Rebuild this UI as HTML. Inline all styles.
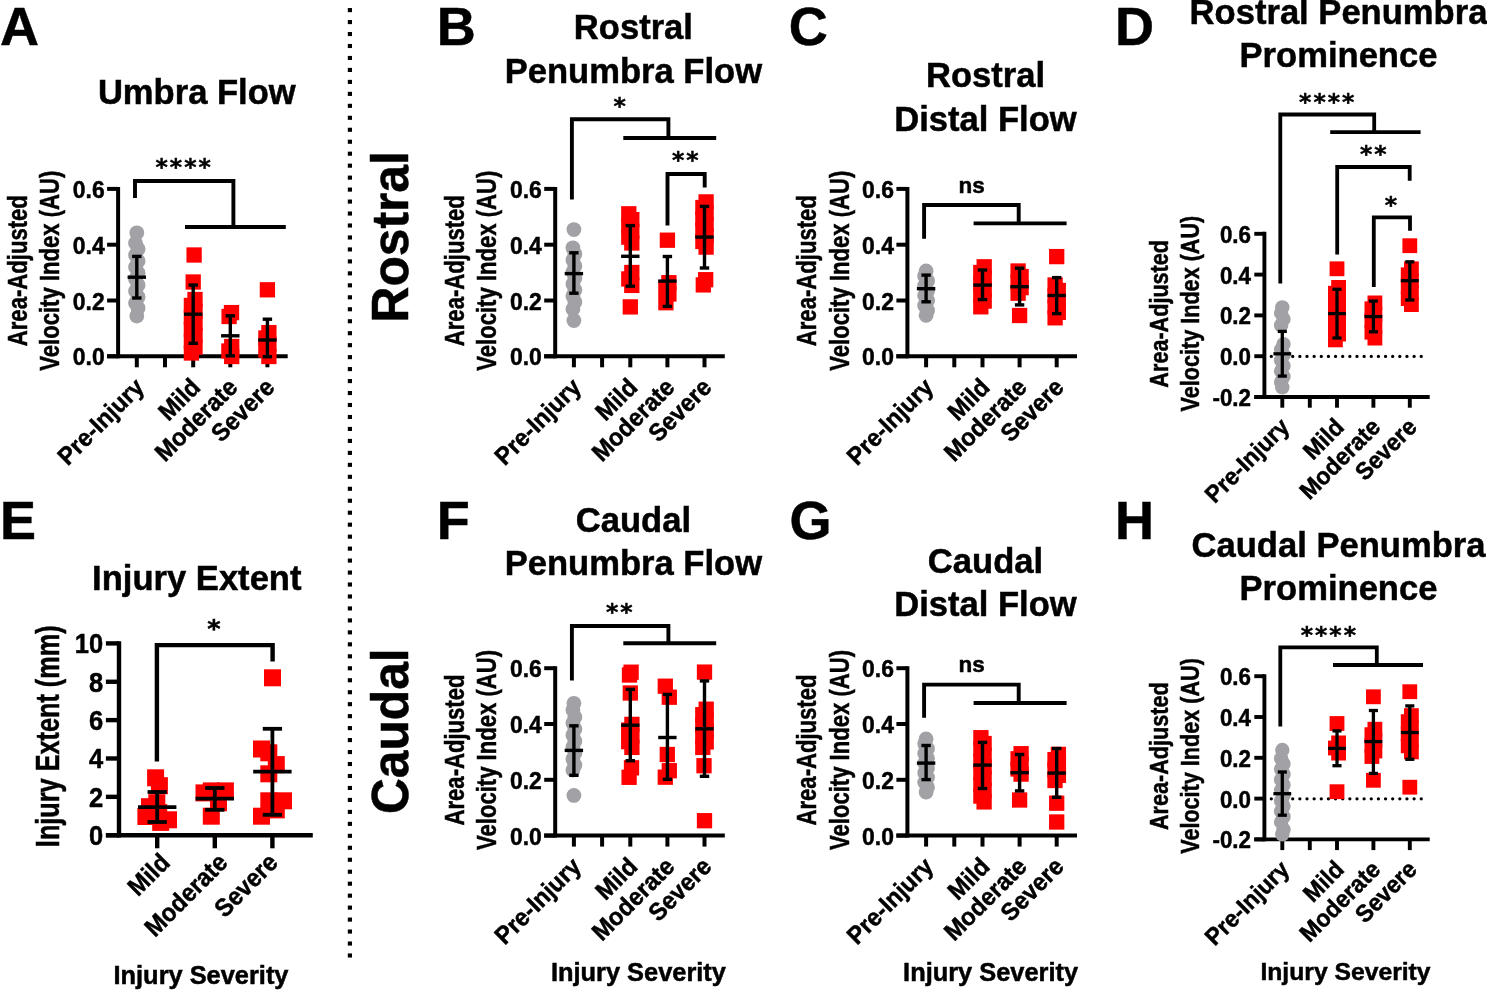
<!DOCTYPE html>
<html lang="en"><head><meta charset="utf-8"><title>Figure</title>
<style>
html,body{margin:0;padding:0;background:#fff;}
svg{display:block;}
text{fill:#000;stroke:#000;font-weight:bold;}
.t{font-family:"Liberation Sans",sans-serif;stroke-width:0.5px;}
.s{font-family:"DejaVu Sans",sans-serif;stroke-width:0.45px;}
</style>
</head><body>
<svg width="1487" height="990" viewBox="0 0 1487 990">
<rect width="1487" height="990" fill="#fff"/>
<text class="t" transform="translate(0.00,44.80)" font-size="54" text-anchor="start">A</text>
<text class="t" transform="translate(196.80,103.60) scale(0.988,1)" font-size="35" text-anchor="middle">Umbra Flow</text>
<text class="t" transform="translate(26.80,270.70) rotate(-90) scale(0.819,1.0)" font-size="27" text-anchor="middle">Area-Adjusted</text>
<text class="t" transform="translate(59.30,270.70) rotate(-90) scale(0.819,1.0)" font-size="27" text-anchor="middle">Velocity Index (AU)</text>
<line x1="118.10" y1="186.90" x2="118.10" y2="358.30" stroke="#000" stroke-width="4.0" stroke-linecap="butt"/>
<line x1="107.10" y1="356.30" x2="287.70" y2="356.30" stroke="#000" stroke-width="4.0" stroke-linecap="butt"/>
<line x1="107.10" y1="356.30" x2="118.10" y2="356.30" stroke="#000" stroke-width="4.0" stroke-linecap="butt"/>
<text class="t" transform="translate(104.70,365.30) scale(0.925,1)" font-size="24.8" text-anchor="end">0.0</text>
<line x1="107.10" y1="300.50" x2="118.10" y2="300.50" stroke="#000" stroke-width="4.0" stroke-linecap="butt"/>
<text class="t" transform="translate(104.70,309.50) scale(0.925,1)" font-size="24.8" text-anchor="end">0.2</text>
<line x1="107.10" y1="244.70" x2="118.10" y2="244.70" stroke="#000" stroke-width="4.0" stroke-linecap="butt"/>
<text class="t" transform="translate(104.70,253.70) scale(0.925,1)" font-size="24.8" text-anchor="end">0.4</text>
<line x1="107.10" y1="188.90" x2="118.10" y2="188.90" stroke="#000" stroke-width="4.0" stroke-linecap="butt"/>
<text class="t" transform="translate(104.70,197.90) scale(0.925,1)" font-size="24.8" text-anchor="end">0.6</text>
<line x1="136.80" y1="356.30" x2="136.80" y2="367.30" stroke="#000" stroke-width="4.0" stroke-linecap="butt"/>
<line x1="165.00" y1="356.30" x2="165.00" y2="367.30" stroke="#000" stroke-width="4.0" stroke-linecap="butt"/>
<line x1="193.20" y1="356.30" x2="193.20" y2="367.30" stroke="#000" stroke-width="4.0" stroke-linecap="butt"/>
<line x1="230.30" y1="356.30" x2="230.30" y2="367.30" stroke="#000" stroke-width="4.0" stroke-linecap="butt"/>
<line x1="267.40" y1="356.30" x2="267.40" y2="367.30" stroke="#000" stroke-width="4.0" stroke-linecap="butt"/>
<text class="t" transform="translate(145.40,388.70) rotate(-45) scale(0.95,1.0)" font-size="24.8" text-anchor="end">Pre-Injury</text>
<text class="t" transform="translate(201.80,388.70) rotate(-45) scale(0.95,1.0)" font-size="24.8" text-anchor="end">Mild</text>
<text class="t" transform="translate(238.90,388.70) rotate(-45) scale(0.95,1.0)" font-size="24.8" text-anchor="end">Moderate</text>
<text class="t" transform="translate(276.00,388.70) rotate(-45) scale(0.95,1.0)" font-size="24.8" text-anchor="end">Severe</text>
<circle cx="136.80" cy="232.80" r="7.4" fill="#a1a1a6"/>
<circle cx="135.50" cy="243.00" r="7.4" fill="#a1a1a6"/>
<circle cx="138.10" cy="249.00" r="7.4" fill="#a1a1a6"/>
<circle cx="135.50" cy="255.00" r="7.4" fill="#a1a1a6"/>
<circle cx="138.10" cy="261.00" r="7.4" fill="#a1a1a6"/>
<circle cx="135.50" cy="267.00" r="7.4" fill="#a1a1a6"/>
<circle cx="138.10" cy="273.00" r="7.4" fill="#a1a1a6"/>
<circle cx="135.50" cy="279.00" r="7.4" fill="#a1a1a6"/>
<circle cx="138.10" cy="285.00" r="7.4" fill="#a1a1a6"/>
<circle cx="135.50" cy="291.00" r="7.4" fill="#a1a1a6"/>
<circle cx="138.10" cy="297.00" r="7.4" fill="#a1a1a6"/>
<circle cx="135.50" cy="303.00" r="7.4" fill="#a1a1a6"/>
<circle cx="138.10" cy="308.00" r="7.4" fill="#a1a1a6"/>
<circle cx="136.80" cy="316.10" r="7.4" fill="#a1a1a6"/>
<rect x="186.45" y="247.35" width="15.3" height="15.3" fill="#ff0000"/>
<rect x="185.55" y="274.35" width="15.3" height="15.3" fill="#ff0000"/>
<rect x="187.35" y="291.85" width="15.3" height="15.3" fill="#ff0000"/>
<rect x="183.75" y="297.79" width="15.3" height="15.3" fill="#ff0000"/>
<rect x="187.35" y="303.74" width="15.3" height="15.3" fill="#ff0000"/>
<rect x="183.75" y="309.68" width="15.3" height="15.3" fill="#ff0000"/>
<rect x="187.35" y="315.63" width="15.3" height="15.3" fill="#ff0000"/>
<rect x="183.75" y="321.57" width="15.3" height="15.3" fill="#ff0000"/>
<rect x="187.35" y="327.52" width="15.3" height="15.3" fill="#ff0000"/>
<rect x="183.75" y="333.46" width="15.3" height="15.3" fill="#ff0000"/>
<rect x="187.35" y="339.41" width="15.3" height="15.3" fill="#ff0000"/>
<rect x="183.75" y="345.35" width="15.3" height="15.3" fill="#ff0000"/>
<rect x="223.85" y="304.95" width="15.3" height="15.3" fill="#ff0000"/>
<rect x="221.45" y="308.85" width="15.3" height="15.3" fill="#ff0000"/>
<rect x="224.05" y="338.85" width="15.3" height="15.3" fill="#ff0000"/>
<rect x="221.25" y="343.35" width="15.3" height="15.3" fill="#ff0000"/>
<rect x="224.05" y="348.85" width="15.3" height="15.3" fill="#ff0000"/>
<rect x="259.75" y="282.15" width="15.3" height="15.3" fill="#ff0000"/>
<rect x="261.25" y="324.95" width="15.3" height="15.3" fill="#ff0000"/>
<rect x="258.25" y="330.35" width="15.3" height="15.3" fill="#ff0000"/>
<rect x="261.25" y="336.35" width="15.3" height="15.3" fill="#ff0000"/>
<rect x="258.25" y="342.35" width="15.3" height="15.3" fill="#ff0000"/>
<rect x="261.25" y="348.85" width="15.3" height="15.3" fill="#ff0000"/>
<line x1="136.80" y1="256.40" x2="136.80" y2="298.00" stroke="#000" stroke-width="3.4" stroke-linecap="butt"/>
<line x1="127.60" y1="277.20" x2="146.00" y2="277.20" stroke="#000" stroke-width="3.4" stroke-linecap="butt"/>
<line x1="132.10" y1="256.40" x2="141.50" y2="256.40" stroke="#000" stroke-width="3.4" stroke-linecap="butt"/>
<line x1="132.10" y1="298.00" x2="141.50" y2="298.00" stroke="#000" stroke-width="3.4" stroke-linecap="butt"/>
<line x1="193.20" y1="285.00" x2="193.20" y2="343.30" stroke="#000" stroke-width="3.4" stroke-linecap="butt"/>
<line x1="184.00" y1="314.20" x2="202.40" y2="314.20" stroke="#000" stroke-width="3.4" stroke-linecap="butt"/>
<line x1="188.50" y1="285.00" x2="197.90" y2="285.00" stroke="#000" stroke-width="3.4" stroke-linecap="butt"/>
<line x1="188.50" y1="343.30" x2="197.90" y2="343.30" stroke="#000" stroke-width="3.4" stroke-linecap="butt"/>
<line x1="230.30" y1="315.80" x2="230.30" y2="355.80" stroke="#000" stroke-width="3.4" stroke-linecap="butt"/>
<line x1="221.10" y1="335.80" x2="239.50" y2="335.80" stroke="#000" stroke-width="3.4" stroke-linecap="butt"/>
<line x1="225.60" y1="315.80" x2="235.00" y2="315.80" stroke="#000" stroke-width="3.4" stroke-linecap="butt"/>
<line x1="225.60" y1="355.80" x2="235.00" y2="355.80" stroke="#000" stroke-width="3.4" stroke-linecap="butt"/>
<line x1="267.40" y1="319.20" x2="267.40" y2="356.70" stroke="#000" stroke-width="3.4" stroke-linecap="butt"/>
<line x1="258.20" y1="340.00" x2="276.60" y2="340.00" stroke="#000" stroke-width="3.4" stroke-linecap="butt"/>
<line x1="262.70" y1="319.20" x2="272.10" y2="319.20" stroke="#000" stroke-width="3.4" stroke-linecap="butt"/>
<line x1="262.70" y1="356.70" x2="272.10" y2="356.70" stroke="#000" stroke-width="3.4" stroke-linecap="butt"/>
<text class="t" transform="translate(436.70,44.80)" font-size="54" text-anchor="start">B</text>
<text class="t" transform="translate(633.40,39.20) scale(0.988,1)" font-size="35" text-anchor="middle">Rostral</text>
<text class="t" transform="translate(633.40,82.60) scale(0.988,1)" font-size="35" text-anchor="middle">Penumbra Flow</text>
<text class="t" transform="translate(463.90,270.70) rotate(-90) scale(0.819,1.0)" font-size="27" text-anchor="middle">Area-Adjusted</text>
<text class="t" transform="translate(496.40,270.70) rotate(-90) scale(0.819,1.0)" font-size="27" text-anchor="middle">Velocity Index (AU)</text>
<line x1="555.20" y1="186.90" x2="555.20" y2="358.30" stroke="#000" stroke-width="4.0" stroke-linecap="butt"/>
<line x1="544.20" y1="356.30" x2="724.80" y2="356.30" stroke="#000" stroke-width="4.0" stroke-linecap="butt"/>
<line x1="544.20" y1="356.30" x2="555.20" y2="356.30" stroke="#000" stroke-width="4.0" stroke-linecap="butt"/>
<text class="t" transform="translate(541.80,365.30) scale(0.925,1)" font-size="24.8" text-anchor="end">0.0</text>
<line x1="544.20" y1="300.50" x2="555.20" y2="300.50" stroke="#000" stroke-width="4.0" stroke-linecap="butt"/>
<text class="t" transform="translate(541.80,309.50) scale(0.925,1)" font-size="24.8" text-anchor="end">0.2</text>
<line x1="544.20" y1="244.70" x2="555.20" y2="244.70" stroke="#000" stroke-width="4.0" stroke-linecap="butt"/>
<text class="t" transform="translate(541.80,253.70) scale(0.925,1)" font-size="24.8" text-anchor="end">0.4</text>
<line x1="544.20" y1="188.90" x2="555.20" y2="188.90" stroke="#000" stroke-width="4.0" stroke-linecap="butt"/>
<text class="t" transform="translate(541.80,197.90) scale(0.925,1)" font-size="24.8" text-anchor="end">0.6</text>
<line x1="573.90" y1="356.30" x2="573.90" y2="367.30" stroke="#000" stroke-width="4.0" stroke-linecap="butt"/>
<line x1="602.10" y1="356.30" x2="602.10" y2="367.30" stroke="#000" stroke-width="4.0" stroke-linecap="butt"/>
<line x1="630.30" y1="356.30" x2="630.30" y2="367.30" stroke="#000" stroke-width="4.0" stroke-linecap="butt"/>
<line x1="667.40" y1="356.30" x2="667.40" y2="367.30" stroke="#000" stroke-width="4.0" stroke-linecap="butt"/>
<line x1="704.50" y1="356.30" x2="704.50" y2="367.30" stroke="#000" stroke-width="4.0" stroke-linecap="butt"/>
<text class="t" transform="translate(582.50,388.70) rotate(-45) scale(0.95,1.0)" font-size="24.8" text-anchor="end">Pre-Injury</text>
<text class="t" transform="translate(638.90,388.70) rotate(-45) scale(0.95,1.0)" font-size="24.8" text-anchor="end">Mild</text>
<text class="t" transform="translate(676.00,388.70) rotate(-45) scale(0.95,1.0)" font-size="24.8" text-anchor="end">Moderate</text>
<text class="t" transform="translate(713.10,388.70) rotate(-45) scale(0.95,1.0)" font-size="24.8" text-anchor="end">Severe</text>
<circle cx="573.90" cy="229.60" r="7.4" fill="#a1a1a6"/>
<circle cx="572.90" cy="247.80" r="7.4" fill="#a1a1a6"/>
<circle cx="574.90" cy="254.00" r="7.4" fill="#a1a1a6"/>
<circle cx="572.90" cy="260.00" r="7.4" fill="#a1a1a6"/>
<circle cx="574.90" cy="266.00" r="7.4" fill="#a1a1a6"/>
<circle cx="572.90" cy="272.00" r="7.4" fill="#a1a1a6"/>
<circle cx="574.90" cy="278.00" r="7.4" fill="#a1a1a6"/>
<circle cx="572.90" cy="284.00" r="7.4" fill="#a1a1a6"/>
<circle cx="574.90" cy="290.00" r="7.4" fill="#a1a1a6"/>
<circle cx="572.90" cy="296.00" r="7.4" fill="#a1a1a6"/>
<circle cx="574.90" cy="302.00" r="7.4" fill="#a1a1a6"/>
<circle cx="572.90" cy="309.00" r="7.4" fill="#a1a1a6"/>
<circle cx="573.90" cy="320.50" r="7.4" fill="#a1a1a6"/>
<rect x="621.15" y="206.15" width="15.3" height="15.3" fill="#ff0000"/>
<rect x="624.15" y="211.99" width="15.3" height="15.3" fill="#ff0000"/>
<rect x="621.15" y="217.83" width="15.3" height="15.3" fill="#ff0000"/>
<rect x="624.15" y="223.67" width="15.3" height="15.3" fill="#ff0000"/>
<rect x="621.15" y="229.51" width="15.3" height="15.3" fill="#ff0000"/>
<rect x="624.15" y="235.35" width="15.3" height="15.3" fill="#ff0000"/>
<rect x="624.15" y="264.85" width="15.3" height="15.3" fill="#ff0000"/>
<rect x="621.15" y="271.30" width="15.3" height="15.3" fill="#ff0000"/>
<rect x="624.15" y="277.75" width="15.3" height="15.3" fill="#ff0000"/>
<rect x="622.65" y="299.25" width="15.3" height="15.3" fill="#ff0000"/>
<rect x="659.75" y="232.55" width="15.3" height="15.3" fill="#ff0000"/>
<rect x="661.25" y="275.05" width="15.3" height="15.3" fill="#ff0000"/>
<rect x="658.25" y="280.35" width="15.3" height="15.3" fill="#ff0000"/>
<rect x="661.25" y="286.35" width="15.3" height="15.3" fill="#ff0000"/>
<rect x="658.25" y="295.05" width="15.3" height="15.3" fill="#ff0000"/>
<rect x="698.45" y="194.25" width="15.3" height="15.3" fill="#ff0000"/>
<rect x="695.25" y="199.90" width="15.3" height="15.3" fill="#ff0000"/>
<rect x="698.45" y="205.55" width="15.3" height="15.3" fill="#ff0000"/>
<rect x="695.25" y="211.20" width="15.3" height="15.3" fill="#ff0000"/>
<rect x="698.45" y="216.85" width="15.3" height="15.3" fill="#ff0000"/>
<rect x="695.25" y="222.50" width="15.3" height="15.3" fill="#ff0000"/>
<rect x="698.45" y="228.15" width="15.3" height="15.3" fill="#ff0000"/>
<rect x="695.25" y="233.80" width="15.3" height="15.3" fill="#ff0000"/>
<rect x="698.45" y="239.45" width="15.3" height="15.3" fill="#ff0000"/>
<rect x="698.05" y="272.05" width="15.3" height="15.3" fill="#ff0000"/>
<rect x="695.65" y="277.25" width="15.3" height="15.3" fill="#ff0000"/>
<line x1="573.90" y1="252.80" x2="573.90" y2="293.20" stroke="#000" stroke-width="3.4" stroke-linecap="butt"/>
<line x1="564.70" y1="273.60" x2="583.10" y2="273.60" stroke="#000" stroke-width="3.4" stroke-linecap="butt"/>
<line x1="569.20" y1="252.80" x2="578.60" y2="252.80" stroke="#000" stroke-width="3.4" stroke-linecap="butt"/>
<line x1="569.20" y1="293.20" x2="578.60" y2="293.20" stroke="#000" stroke-width="3.4" stroke-linecap="butt"/>
<line x1="630.30" y1="225.60" x2="630.30" y2="286.20" stroke="#000" stroke-width="3.4" stroke-linecap="butt"/>
<line x1="621.10" y1="256.30" x2="639.50" y2="256.30" stroke="#000" stroke-width="3.4" stroke-linecap="butt"/>
<line x1="625.60" y1="225.60" x2="635.00" y2="225.60" stroke="#000" stroke-width="3.4" stroke-linecap="butt"/>
<line x1="625.60" y1="286.20" x2="635.00" y2="286.20" stroke="#000" stroke-width="3.4" stroke-linecap="butt"/>
<line x1="667.40" y1="256.50" x2="667.40" y2="306.40" stroke="#000" stroke-width="3.4" stroke-linecap="butt"/>
<line x1="658.20" y1="281.10" x2="676.60" y2="281.10" stroke="#000" stroke-width="3.4" stroke-linecap="butt"/>
<line x1="662.70" y1="256.50" x2="672.10" y2="256.50" stroke="#000" stroke-width="3.4" stroke-linecap="butt"/>
<line x1="662.70" y1="306.40" x2="672.10" y2="306.40" stroke="#000" stroke-width="3.4" stroke-linecap="butt"/>
<line x1="704.50" y1="206.40" x2="704.50" y2="268.00" stroke="#000" stroke-width="3.4" stroke-linecap="butt"/>
<line x1="695.30" y1="237.10" x2="713.70" y2="237.10" stroke="#000" stroke-width="3.4" stroke-linecap="butt"/>
<line x1="699.80" y1="206.40" x2="709.20" y2="206.40" stroke="#000" stroke-width="3.4" stroke-linecap="butt"/>
<line x1="699.80" y1="268.00" x2="709.20" y2="268.00" stroke="#000" stroke-width="3.4" stroke-linecap="butt"/>
<text class="t" transform="translate(788.80,44.80)" font-size="54" text-anchor="start">C</text>
<text class="t" transform="translate(985.50,87.30) scale(0.988,1)" font-size="35" text-anchor="middle">Rostral</text>
<text class="t" transform="translate(985.50,130.70) scale(0.988,1)" font-size="35" text-anchor="middle">Distal Flow</text>
<text class="t" transform="translate(816.10,270.70) rotate(-90) scale(0.819,1.0)" font-size="27" text-anchor="middle">Area-Adjusted</text>
<text class="t" transform="translate(848.60,270.70) rotate(-90) scale(0.819,1.0)" font-size="27" text-anchor="middle">Velocity Index (AU)</text>
<line x1="907.40" y1="186.90" x2="907.40" y2="358.30" stroke="#000" stroke-width="4.0" stroke-linecap="butt"/>
<line x1="896.40" y1="356.30" x2="1077.00" y2="356.30" stroke="#000" stroke-width="4.0" stroke-linecap="butt"/>
<line x1="896.40" y1="356.30" x2="907.40" y2="356.30" stroke="#000" stroke-width="4.0" stroke-linecap="butt"/>
<text class="t" transform="translate(894.00,365.30) scale(0.925,1)" font-size="24.8" text-anchor="end">0.0</text>
<line x1="896.40" y1="300.50" x2="907.40" y2="300.50" stroke="#000" stroke-width="4.0" stroke-linecap="butt"/>
<text class="t" transform="translate(894.00,309.50) scale(0.925,1)" font-size="24.8" text-anchor="end">0.2</text>
<line x1="896.40" y1="244.70" x2="907.40" y2="244.70" stroke="#000" stroke-width="4.0" stroke-linecap="butt"/>
<text class="t" transform="translate(894.00,253.70) scale(0.925,1)" font-size="24.8" text-anchor="end">0.4</text>
<line x1="896.40" y1="188.90" x2="907.40" y2="188.90" stroke="#000" stroke-width="4.0" stroke-linecap="butt"/>
<text class="t" transform="translate(894.00,197.90) scale(0.925,1)" font-size="24.8" text-anchor="end">0.6</text>
<line x1="926.10" y1="356.30" x2="926.10" y2="367.30" stroke="#000" stroke-width="4.0" stroke-linecap="butt"/>
<line x1="954.30" y1="356.30" x2="954.30" y2="367.30" stroke="#000" stroke-width="4.0" stroke-linecap="butt"/>
<line x1="982.50" y1="356.30" x2="982.50" y2="367.30" stroke="#000" stroke-width="4.0" stroke-linecap="butt"/>
<line x1="1019.60" y1="356.30" x2="1019.60" y2="367.30" stroke="#000" stroke-width="4.0" stroke-linecap="butt"/>
<line x1="1056.70" y1="356.30" x2="1056.70" y2="367.30" stroke="#000" stroke-width="4.0" stroke-linecap="butt"/>
<text class="t" transform="translate(934.70,388.70) rotate(-45) scale(0.95,1.0)" font-size="24.8" text-anchor="end">Pre-Injury</text>
<text class="t" transform="translate(991.10,388.70) rotate(-45) scale(0.95,1.0)" font-size="24.8" text-anchor="end">Mild</text>
<text class="t" transform="translate(1028.20,388.70) rotate(-45) scale(0.95,1.0)" font-size="24.8" text-anchor="end">Moderate</text>
<text class="t" transform="translate(1065.30,388.70) rotate(-45) scale(0.95,1.0)" font-size="24.8" text-anchor="end">Severe</text>
<circle cx="926.10" cy="271.00" r="7.4" fill="#a1a1a6"/>
<circle cx="924.60" cy="275.92" r="7.4" fill="#a1a1a6"/>
<circle cx="927.60" cy="280.84" r="7.4" fill="#a1a1a6"/>
<circle cx="924.60" cy="285.77" r="7.4" fill="#a1a1a6"/>
<circle cx="927.60" cy="290.69" r="7.4" fill="#a1a1a6"/>
<circle cx="924.60" cy="295.61" r="7.4" fill="#a1a1a6"/>
<circle cx="927.60" cy="300.53" r="7.4" fill="#a1a1a6"/>
<circle cx="924.60" cy="305.46" r="7.4" fill="#a1a1a6"/>
<circle cx="927.60" cy="310.38" r="7.4" fill="#a1a1a6"/>
<circle cx="926.10" cy="315.30" r="7.4" fill="#a1a1a6"/>
<rect x="976.55" y="259.15" width="15.3" height="15.3" fill="#ff0000"/>
<rect x="973.15" y="264.86" width="15.3" height="15.3" fill="#ff0000"/>
<rect x="976.55" y="270.58" width="15.3" height="15.3" fill="#ff0000"/>
<rect x="973.15" y="276.29" width="15.3" height="15.3" fill="#ff0000"/>
<rect x="976.55" y="282.01" width="15.3" height="15.3" fill="#ff0000"/>
<rect x="973.15" y="287.72" width="15.3" height="15.3" fill="#ff0000"/>
<rect x="976.55" y="293.44" width="15.3" height="15.3" fill="#ff0000"/>
<rect x="973.15" y="299.15" width="15.3" height="15.3" fill="#ff0000"/>
<rect x="1010.45" y="263.35" width="15.3" height="15.3" fill="#ff0000"/>
<rect x="1013.45" y="268.90" width="15.3" height="15.3" fill="#ff0000"/>
<rect x="1010.45" y="274.45" width="15.3" height="15.3" fill="#ff0000"/>
<rect x="1013.45" y="280.00" width="15.3" height="15.3" fill="#ff0000"/>
<rect x="1010.45" y="285.55" width="15.3" height="15.3" fill="#ff0000"/>
<rect x="1011.95" y="307.85" width="15.3" height="15.3" fill="#ff0000"/>
<rect x="1049.05" y="248.95" width="15.3" height="15.3" fill="#ff0000"/>
<rect x="1047.45" y="277.35" width="15.3" height="15.3" fill="#ff0000"/>
<rect x="1050.65" y="282.82" width="15.3" height="15.3" fill="#ff0000"/>
<rect x="1047.45" y="288.28" width="15.3" height="15.3" fill="#ff0000"/>
<rect x="1050.65" y="293.75" width="15.3" height="15.3" fill="#ff0000"/>
<rect x="1047.45" y="299.22" width="15.3" height="15.3" fill="#ff0000"/>
<rect x="1050.65" y="304.68" width="15.3" height="15.3" fill="#ff0000"/>
<rect x="1047.45" y="310.15" width="15.3" height="15.3" fill="#ff0000"/>
<line x1="926.10" y1="275.10" x2="926.10" y2="301.80" stroke="#000" stroke-width="3.4" stroke-linecap="butt"/>
<line x1="916.90" y1="288.70" x2="935.30" y2="288.70" stroke="#000" stroke-width="3.4" stroke-linecap="butt"/>
<line x1="921.40" y1="275.10" x2="930.80" y2="275.10" stroke="#000" stroke-width="3.4" stroke-linecap="butt"/>
<line x1="921.40" y1="301.80" x2="930.80" y2="301.80" stroke="#000" stroke-width="3.4" stroke-linecap="butt"/>
<line x1="982.50" y1="270.00" x2="982.50" y2="299.60" stroke="#000" stroke-width="3.4" stroke-linecap="butt"/>
<line x1="973.30" y1="285.10" x2="991.70" y2="285.10" stroke="#000" stroke-width="3.4" stroke-linecap="butt"/>
<line x1="977.80" y1="270.00" x2="987.20" y2="270.00" stroke="#000" stroke-width="3.4" stroke-linecap="butt"/>
<line x1="977.80" y1="299.60" x2="987.20" y2="299.60" stroke="#000" stroke-width="3.4" stroke-linecap="butt"/>
<line x1="1019.60" y1="268.20" x2="1019.60" y2="304.90" stroke="#000" stroke-width="3.4" stroke-linecap="butt"/>
<line x1="1010.40" y1="286.70" x2="1028.80" y2="286.70" stroke="#000" stroke-width="3.4" stroke-linecap="butt"/>
<line x1="1014.90" y1="268.20" x2="1024.30" y2="268.20" stroke="#000" stroke-width="3.4" stroke-linecap="butt"/>
<line x1="1014.90" y1="304.90" x2="1024.30" y2="304.90" stroke="#000" stroke-width="3.4" stroke-linecap="butt"/>
<line x1="1056.70" y1="277.60" x2="1056.70" y2="313.60" stroke="#000" stroke-width="3.4" stroke-linecap="butt"/>
<line x1="1047.50" y1="295.50" x2="1065.90" y2="295.50" stroke="#000" stroke-width="3.4" stroke-linecap="butt"/>
<line x1="1052.00" y1="277.60" x2="1061.40" y2="277.60" stroke="#000" stroke-width="3.4" stroke-linecap="butt"/>
<line x1="1052.00" y1="313.60" x2="1061.40" y2="313.60" stroke="#000" stroke-width="3.4" stroke-linecap="butt"/>
<text class="t" transform="translate(436.80,539.20)" font-size="54" text-anchor="start">F</text>
<text class="t" transform="translate(633.40,532.00) scale(0.988,1)" font-size="35" text-anchor="middle">Caudal</text>
<text class="t" transform="translate(633.40,575.40) scale(0.988,1)" font-size="35" text-anchor="middle">Penumbra Flow</text>
<text class="t" transform="translate(463.90,750.00) rotate(-90) scale(0.819,1.0)" font-size="27" text-anchor="middle">Area-Adjusted</text>
<text class="t" transform="translate(496.40,750.00) rotate(-90) scale(0.819,1.0)" font-size="27" text-anchor="middle">Velocity Index (AU)</text>
<line x1="555.20" y1="666.20" x2="555.20" y2="837.60" stroke="#000" stroke-width="4.0" stroke-linecap="butt"/>
<line x1="544.20" y1="835.60" x2="724.80" y2="835.60" stroke="#000" stroke-width="4.0" stroke-linecap="butt"/>
<line x1="544.20" y1="835.60" x2="555.20" y2="835.60" stroke="#000" stroke-width="4.0" stroke-linecap="butt"/>
<text class="t" transform="translate(541.80,844.60) scale(0.925,1)" font-size="24.8" text-anchor="end">0.0</text>
<line x1="544.20" y1="779.80" x2="555.20" y2="779.80" stroke="#000" stroke-width="4.0" stroke-linecap="butt"/>
<text class="t" transform="translate(541.80,788.80) scale(0.925,1)" font-size="24.8" text-anchor="end">0.2</text>
<line x1="544.20" y1="724.00" x2="555.20" y2="724.00" stroke="#000" stroke-width="4.0" stroke-linecap="butt"/>
<text class="t" transform="translate(541.80,733.00) scale(0.925,1)" font-size="24.8" text-anchor="end">0.4</text>
<line x1="544.20" y1="668.20" x2="555.20" y2="668.20" stroke="#000" stroke-width="4.0" stroke-linecap="butt"/>
<text class="t" transform="translate(541.80,677.20) scale(0.925,1)" font-size="24.8" text-anchor="end">0.6</text>
<line x1="573.90" y1="835.60" x2="573.90" y2="846.60" stroke="#000" stroke-width="4.0" stroke-linecap="butt"/>
<line x1="602.10" y1="835.60" x2="602.10" y2="846.60" stroke="#000" stroke-width="4.0" stroke-linecap="butt"/>
<line x1="630.30" y1="835.60" x2="630.30" y2="846.60" stroke="#000" stroke-width="4.0" stroke-linecap="butt"/>
<line x1="667.40" y1="835.60" x2="667.40" y2="846.60" stroke="#000" stroke-width="4.0" stroke-linecap="butt"/>
<line x1="704.50" y1="835.60" x2="704.50" y2="846.60" stroke="#000" stroke-width="4.0" stroke-linecap="butt"/>
<text class="t" transform="translate(582.50,868.00) rotate(-45) scale(0.95,1.0)" font-size="24.8" text-anchor="end">Pre-Injury</text>
<text class="t" transform="translate(638.90,868.00) rotate(-45) scale(0.95,1.0)" font-size="24.8" text-anchor="end">Mild</text>
<text class="t" transform="translate(676.00,868.00) rotate(-45) scale(0.95,1.0)" font-size="24.8" text-anchor="end">Moderate</text>
<text class="t" transform="translate(713.10,868.00) rotate(-45) scale(0.95,1.0)" font-size="24.8" text-anchor="end">Severe</text>
<text class="t" transform="translate(638.40,981.20)" font-size="25.4" text-anchor="middle">Injury Severity</text>
<circle cx="573.90" cy="703.30" r="7.4" fill="#a1a1a6"/>
<circle cx="572.90" cy="710.00" r="7.4" fill="#a1a1a6"/>
<circle cx="574.90" cy="717.00" r="7.4" fill="#a1a1a6"/>
<circle cx="572.90" cy="723.00" r="7.4" fill="#a1a1a6"/>
<circle cx="574.90" cy="729.00" r="7.4" fill="#a1a1a6"/>
<circle cx="572.90" cy="735.00" r="7.4" fill="#a1a1a6"/>
<circle cx="574.90" cy="741.00" r="7.4" fill="#a1a1a6"/>
<circle cx="572.90" cy="747.00" r="7.4" fill="#a1a1a6"/>
<circle cx="574.90" cy="753.00" r="7.4" fill="#a1a1a6"/>
<circle cx="572.90" cy="759.00" r="7.4" fill="#a1a1a6"/>
<circle cx="574.90" cy="765.00" r="7.4" fill="#a1a1a6"/>
<circle cx="572.90" cy="770.00" r="7.4" fill="#a1a1a6"/>
<circle cx="573.90" cy="795.40" r="7.4" fill="#a1a1a6"/>
<rect x="623.45" y="664.55" width="15.3" height="15.3" fill="#ff0000"/>
<rect x="621.85" y="667.35" width="15.3" height="15.3" fill="#ff0000"/>
<rect x="622.65" y="685.35" width="15.3" height="15.3" fill="#ff0000"/>
<rect x="624.25" y="716.75" width="15.3" height="15.3" fill="#ff0000"/>
<rect x="621.05" y="722.50" width="15.3" height="15.3" fill="#ff0000"/>
<rect x="624.25" y="728.25" width="15.3" height="15.3" fill="#ff0000"/>
<rect x="621.05" y="734.00" width="15.3" height="15.3" fill="#ff0000"/>
<rect x="624.25" y="739.75" width="15.3" height="15.3" fill="#ff0000"/>
<rect x="623.85" y="760.15" width="15.3" height="15.3" fill="#ff0000"/>
<rect x="621.45" y="769.65" width="15.3" height="15.3" fill="#ff0000"/>
<rect x="657.65" y="678.55" width="15.3" height="15.3" fill="#ff0000"/>
<rect x="661.65" y="689.55" width="15.3" height="15.3" fill="#ff0000"/>
<rect x="659.65" y="746.85" width="15.3" height="15.3" fill="#ff0000"/>
<rect x="661.65" y="763.05" width="15.3" height="15.3" fill="#ff0000"/>
<rect x="657.65" y="769.55" width="15.3" height="15.3" fill="#ff0000"/>
<rect x="696.85" y="664.45" width="15.3" height="15.3" fill="#ff0000"/>
<rect x="698.55" y="701.55" width="15.3" height="15.3" fill="#ff0000"/>
<rect x="695.15" y="707.01" width="15.3" height="15.3" fill="#ff0000"/>
<rect x="698.55" y="712.46" width="15.3" height="15.3" fill="#ff0000"/>
<rect x="695.15" y="717.92" width="15.3" height="15.3" fill="#ff0000"/>
<rect x="698.55" y="723.38" width="15.3" height="15.3" fill="#ff0000"/>
<rect x="695.15" y="728.84" width="15.3" height="15.3" fill="#ff0000"/>
<rect x="698.55" y="734.29" width="15.3" height="15.3" fill="#ff0000"/>
<rect x="695.15" y="739.75" width="15.3" height="15.3" fill="#ff0000"/>
<rect x="696.35" y="758.05" width="15.3" height="15.3" fill="#ff0000"/>
<rect x="696.85" y="813.05" width="15.3" height="15.3" fill="#ff0000"/>
<line x1="573.90" y1="725.80" x2="573.90" y2="775.30" stroke="#000" stroke-width="3.4" stroke-linecap="butt"/>
<line x1="564.70" y1="750.40" x2="583.10" y2="750.40" stroke="#000" stroke-width="3.4" stroke-linecap="butt"/>
<line x1="569.20" y1="725.80" x2="578.60" y2="725.80" stroke="#000" stroke-width="3.4" stroke-linecap="butt"/>
<line x1="569.20" y1="775.30" x2="578.60" y2="775.30" stroke="#000" stroke-width="3.4" stroke-linecap="butt"/>
<line x1="630.30" y1="689.40" x2="630.30" y2="760.70" stroke="#000" stroke-width="3.4" stroke-linecap="butt"/>
<line x1="621.10" y1="725.20" x2="639.50" y2="725.20" stroke="#000" stroke-width="3.4" stroke-linecap="butt"/>
<line x1="625.60" y1="689.40" x2="635.00" y2="689.40" stroke="#000" stroke-width="3.4" stroke-linecap="butt"/>
<line x1="625.60" y1="760.70" x2="635.00" y2="760.70" stroke="#000" stroke-width="3.4" stroke-linecap="butt"/>
<line x1="667.40" y1="694.40" x2="667.40" y2="779.30" stroke="#000" stroke-width="3.4" stroke-linecap="butt"/>
<line x1="658.20" y1="737.50" x2="676.60" y2="737.50" stroke="#000" stroke-width="3.4" stroke-linecap="butt"/>
<line x1="662.70" y1="694.40" x2="672.10" y2="694.40" stroke="#000" stroke-width="3.4" stroke-linecap="butt"/>
<line x1="662.70" y1="779.30" x2="672.10" y2="779.30" stroke="#000" stroke-width="3.4" stroke-linecap="butt"/>
<line x1="704.50" y1="680.90" x2="704.50" y2="776.30" stroke="#000" stroke-width="3.4" stroke-linecap="butt"/>
<line x1="695.30" y1="728.80" x2="713.70" y2="728.80" stroke="#000" stroke-width="3.4" stroke-linecap="butt"/>
<line x1="699.80" y1="680.90" x2="709.20" y2="680.90" stroke="#000" stroke-width="3.4" stroke-linecap="butt"/>
<line x1="699.80" y1="776.30" x2="709.20" y2="776.30" stroke="#000" stroke-width="3.4" stroke-linecap="butt"/>
<text class="t" transform="translate(789.50,539.20)" font-size="54" text-anchor="start">G</text>
<text class="t" transform="translate(985.50,572.80) scale(0.988,1)" font-size="35" text-anchor="middle">Caudal</text>
<text class="t" transform="translate(985.50,616.20) scale(0.988,1)" font-size="35" text-anchor="middle">Distal Flow</text>
<text class="t" transform="translate(816.10,750.00) rotate(-90) scale(0.819,1.0)" font-size="27" text-anchor="middle">Area-Adjusted</text>
<text class="t" transform="translate(848.60,750.00) rotate(-90) scale(0.819,1.0)" font-size="27" text-anchor="middle">Velocity Index (AU)</text>
<line x1="907.40" y1="666.20" x2="907.40" y2="837.60" stroke="#000" stroke-width="4.0" stroke-linecap="butt"/>
<line x1="896.40" y1="835.60" x2="1077.00" y2="835.60" stroke="#000" stroke-width="4.0" stroke-linecap="butt"/>
<line x1="896.40" y1="835.60" x2="907.40" y2="835.60" stroke="#000" stroke-width="4.0" stroke-linecap="butt"/>
<text class="t" transform="translate(894.00,844.60) scale(0.925,1)" font-size="24.8" text-anchor="end">0.0</text>
<line x1="896.40" y1="779.80" x2="907.40" y2="779.80" stroke="#000" stroke-width="4.0" stroke-linecap="butt"/>
<text class="t" transform="translate(894.00,788.80) scale(0.925,1)" font-size="24.8" text-anchor="end">0.2</text>
<line x1="896.40" y1="724.00" x2="907.40" y2="724.00" stroke="#000" stroke-width="4.0" stroke-linecap="butt"/>
<text class="t" transform="translate(894.00,733.00) scale(0.925,1)" font-size="24.8" text-anchor="end">0.4</text>
<line x1="896.40" y1="668.20" x2="907.40" y2="668.20" stroke="#000" stroke-width="4.0" stroke-linecap="butt"/>
<text class="t" transform="translate(894.00,677.20) scale(0.925,1)" font-size="24.8" text-anchor="end">0.6</text>
<line x1="926.10" y1="835.60" x2="926.10" y2="846.60" stroke="#000" stroke-width="4.0" stroke-linecap="butt"/>
<line x1="954.30" y1="835.60" x2="954.30" y2="846.60" stroke="#000" stroke-width="4.0" stroke-linecap="butt"/>
<line x1="982.50" y1="835.60" x2="982.50" y2="846.60" stroke="#000" stroke-width="4.0" stroke-linecap="butt"/>
<line x1="1019.60" y1="835.60" x2="1019.60" y2="846.60" stroke="#000" stroke-width="4.0" stroke-linecap="butt"/>
<line x1="1056.70" y1="835.60" x2="1056.70" y2="846.60" stroke="#000" stroke-width="4.0" stroke-linecap="butt"/>
<text class="t" transform="translate(934.70,868.00) rotate(-45) scale(0.95,1.0)" font-size="24.8" text-anchor="end">Pre-Injury</text>
<text class="t" transform="translate(991.10,868.00) rotate(-45) scale(0.95,1.0)" font-size="24.8" text-anchor="end">Mild</text>
<text class="t" transform="translate(1028.20,868.00) rotate(-45) scale(0.95,1.0)" font-size="24.8" text-anchor="end">Moderate</text>
<text class="t" transform="translate(1065.30,868.00) rotate(-45) scale(0.95,1.0)" font-size="24.8" text-anchor="end">Severe</text>
<text class="t" transform="translate(990.60,981.20)" font-size="25.4" text-anchor="middle">Injury Severity</text>
<circle cx="926.10" cy="739.00" r="7.4" fill="#a1a1a6"/>
<circle cx="924.70" cy="743.82" r="7.4" fill="#a1a1a6"/>
<circle cx="927.50" cy="748.64" r="7.4" fill="#a1a1a6"/>
<circle cx="924.70" cy="753.45" r="7.4" fill="#a1a1a6"/>
<circle cx="927.50" cy="758.27" r="7.4" fill="#a1a1a6"/>
<circle cx="924.70" cy="763.09" r="7.4" fill="#a1a1a6"/>
<circle cx="927.50" cy="767.91" r="7.4" fill="#a1a1a6"/>
<circle cx="924.70" cy="772.73" r="7.4" fill="#a1a1a6"/>
<circle cx="927.50" cy="777.55" r="7.4" fill="#a1a1a6"/>
<circle cx="924.70" cy="782.36" r="7.4" fill="#a1a1a6"/>
<circle cx="927.50" cy="787.18" r="7.4" fill="#a1a1a6"/>
<circle cx="926.10" cy="792.00" r="7.4" fill="#a1a1a6"/>
<rect x="973.25" y="730.05" width="15.3" height="15.3" fill="#ff0000"/>
<rect x="976.45" y="735.89" width="15.3" height="15.3" fill="#ff0000"/>
<rect x="973.25" y="741.72" width="15.3" height="15.3" fill="#ff0000"/>
<rect x="976.45" y="747.56" width="15.3" height="15.3" fill="#ff0000"/>
<rect x="973.25" y="753.40" width="15.3" height="15.3" fill="#ff0000"/>
<rect x="976.45" y="759.23" width="15.3" height="15.3" fill="#ff0000"/>
<rect x="973.25" y="765.07" width="15.3" height="15.3" fill="#ff0000"/>
<rect x="976.45" y="770.90" width="15.3" height="15.3" fill="#ff0000"/>
<rect x="973.25" y="776.74" width="15.3" height="15.3" fill="#ff0000"/>
<rect x="976.45" y="782.58" width="15.3" height="15.3" fill="#ff0000"/>
<rect x="973.25" y="788.41" width="15.3" height="15.3" fill="#ff0000"/>
<rect x="976.45" y="794.25" width="15.3" height="15.3" fill="#ff0000"/>
<rect x="1013.45" y="746.05" width="15.3" height="15.3" fill="#ff0000"/>
<rect x="1010.45" y="751.15" width="15.3" height="15.3" fill="#ff0000"/>
<rect x="1013.45" y="756.25" width="15.3" height="15.3" fill="#ff0000"/>
<rect x="1010.45" y="761.35" width="15.3" height="15.3" fill="#ff0000"/>
<rect x="1013.45" y="766.45" width="15.3" height="15.3" fill="#ff0000"/>
<rect x="1011.95" y="792.35" width="15.3" height="15.3" fill="#ff0000"/>
<rect x="1050.75" y="746.75" width="15.3" height="15.3" fill="#ff0000"/>
<rect x="1047.35" y="751.97" width="15.3" height="15.3" fill="#ff0000"/>
<rect x="1050.75" y="757.19" width="15.3" height="15.3" fill="#ff0000"/>
<rect x="1047.35" y="762.41" width="15.3" height="15.3" fill="#ff0000"/>
<rect x="1050.75" y="767.63" width="15.3" height="15.3" fill="#ff0000"/>
<rect x="1047.35" y="772.85" width="15.3" height="15.3" fill="#ff0000"/>
<rect x="1049.05" y="795.55" width="15.3" height="15.3" fill="#ff0000"/>
<rect x="1049.05" y="814.35" width="15.3" height="15.3" fill="#ff0000"/>
<line x1="926.10" y1="745.50" x2="926.10" y2="779.60" stroke="#000" stroke-width="3.4" stroke-linecap="butt"/>
<line x1="916.90" y1="763.10" x2="935.30" y2="763.10" stroke="#000" stroke-width="3.4" stroke-linecap="butt"/>
<line x1="921.40" y1="745.50" x2="930.80" y2="745.50" stroke="#000" stroke-width="3.4" stroke-linecap="butt"/>
<line x1="921.40" y1="779.60" x2="930.80" y2="779.60" stroke="#000" stroke-width="3.4" stroke-linecap="butt"/>
<line x1="982.50" y1="742.40" x2="982.50" y2="788.50" stroke="#000" stroke-width="3.4" stroke-linecap="butt"/>
<line x1="973.30" y1="765.10" x2="991.70" y2="765.10" stroke="#000" stroke-width="3.4" stroke-linecap="butt"/>
<line x1="977.80" y1="742.40" x2="987.20" y2="742.40" stroke="#000" stroke-width="3.4" stroke-linecap="butt"/>
<line x1="977.80" y1="788.50" x2="987.20" y2="788.50" stroke="#000" stroke-width="3.4" stroke-linecap="butt"/>
<line x1="1019.60" y1="754.50" x2="1019.60" y2="790.90" stroke="#000" stroke-width="3.4" stroke-linecap="butt"/>
<line x1="1010.40" y1="772.70" x2="1028.80" y2="772.70" stroke="#000" stroke-width="3.4" stroke-linecap="butt"/>
<line x1="1014.90" y1="754.50" x2="1024.30" y2="754.50" stroke="#000" stroke-width="3.4" stroke-linecap="butt"/>
<line x1="1014.90" y1="790.90" x2="1024.30" y2="790.90" stroke="#000" stroke-width="3.4" stroke-linecap="butt"/>
<line x1="1056.70" y1="748.50" x2="1056.70" y2="797.30" stroke="#000" stroke-width="3.4" stroke-linecap="butt"/>
<line x1="1047.50" y1="773.10" x2="1065.90" y2="773.10" stroke="#000" stroke-width="3.4" stroke-linecap="butt"/>
<line x1="1052.00" y1="748.50" x2="1061.40" y2="748.50" stroke="#000" stroke-width="3.4" stroke-linecap="butt"/>
<line x1="1052.00" y1="797.30" x2="1061.40" y2="797.30" stroke="#000" stroke-width="3.4" stroke-linecap="butt"/>
<path d="M135 198 V181 H233.4 V227" fill="none" stroke="#000" stroke-width="3.9" stroke-linejoin="miter"/>
<line x1="185.00" y1="227.00" x2="285.80" y2="227.00" stroke="#000" stroke-width="3.9" stroke-linecap="butt"/>
<text class="s" x="155.46" y="174.90" font-size="23.5" letter-spacing="2.06">****</text>
<path d="M571.9 199.6 V119.3 H668.4 V138" fill="none" stroke="#000" stroke-width="3.9" stroke-linejoin="miter"/>
<line x1="623.30" y1="138.00" x2="716.20" y2="138.00" stroke="#000" stroke-width="3.9" stroke-linecap="butt"/>
<text class="s" x="613.38" y="114.40" font-size="23.5" letter-spacing="2.06">*</text>
<path d="M667.5 225.5 V174 H704.7 V187.6" fill="none" stroke="#000" stroke-width="3.9" stroke-linejoin="miter"/>
<text class="s" x="671.91" y="167.90" font-size="23.5" letter-spacing="2.06">**</text>
<path d="M924.1 238.7 V205 H1018.7 V223.4" fill="none" stroke="#000" stroke-width="3.9" stroke-linejoin="miter"/>
<line x1="973.60" y1="223.40" x2="1066.60" y2="223.40" stroke="#000" stroke-width="3.9" stroke-linecap="butt"/>
<text class="t" transform="translate(971.60,193.00)" font-size="22.5" text-anchor="middle">ns</text>
<path d="M571.9 680.6 V626 H668.4 V643.2" fill="none" stroke="#000" stroke-width="3.9" stroke-linejoin="miter"/>
<line x1="623.30" y1="643.20" x2="716.20" y2="643.20" stroke="#000" stroke-width="3.9" stroke-linecap="butt"/>
<text class="s" x="605.91" y="620.30" font-size="23.5" letter-spacing="2.06">**</text>
<path d="M924.1 717.8 V684.6 H1018.7 V703" fill="none" stroke="#000" stroke-width="3.9" stroke-linejoin="miter"/>
<line x1="973.60" y1="703.00" x2="1066.60" y2="703.00" stroke="#000" stroke-width="3.9" stroke-linecap="butt"/>
<text class="t" transform="translate(971.60,672.40)" font-size="22.5" text-anchor="middle">ns</text>
<text class="t" transform="translate(1115.00,44.80)" font-size="54" text-anchor="start">D</text>
<text class="t" transform="translate(1338.50,24.00) scale(0.988,1)" font-size="35" text-anchor="middle">Rostral Penumbra</text>
<text class="t" transform="translate(1338.50,66.80) scale(0.988,1)" font-size="35" text-anchor="middle">Prominence</text>
<text class="t" transform="translate(1168.20,313.80) rotate(-90) scale(0.819,1.0)" font-size="26.4" text-anchor="middle">Area-Adjusted</text>
<text class="t" transform="translate(1198.60,313.60) rotate(-90) scale(0.819,1.0)" font-size="26.4" text-anchor="middle">Velocity Index (AU)</text>
<line x1="1264.40" y1="231.85" x2="1264.40" y2="398.95" stroke="#000" stroke-width="3.9" stroke-linecap="butt"/>
<line x1="1254.30" y1="397.00" x2="1429.70" y2="397.00" stroke="#000" stroke-width="3.9" stroke-linecap="butt"/>
<line x1="1254.30" y1="397.00" x2="1264.40" y2="397.00" stroke="#000" stroke-width="3.9" stroke-linecap="butt"/>
<text class="t" transform="translate(1251.00,406.00) scale(0.925,1)" font-size="24.2" text-anchor="end">-0.2</text>
<line x1="1254.30" y1="356.20" x2="1264.40" y2="356.20" stroke="#000" stroke-width="3.9" stroke-linecap="butt"/>
<text class="t" transform="translate(1251.00,365.20) scale(0.925,1)" font-size="24.2" text-anchor="end">0.0</text>
<line x1="1254.30" y1="315.40" x2="1264.40" y2="315.40" stroke="#000" stroke-width="3.9" stroke-linecap="butt"/>
<text class="t" transform="translate(1251.00,324.40) scale(0.925,1)" font-size="24.2" text-anchor="end">0.2</text>
<line x1="1254.30" y1="274.60" x2="1264.40" y2="274.60" stroke="#000" stroke-width="3.9" stroke-linecap="butt"/>
<text class="t" transform="translate(1251.00,283.60) scale(0.925,1)" font-size="24.2" text-anchor="end">0.4</text>
<line x1="1254.30" y1="233.80" x2="1264.40" y2="233.80" stroke="#000" stroke-width="3.9" stroke-linecap="butt"/>
<text class="t" transform="translate(1251.00,242.80) scale(0.925,1)" font-size="24.2" text-anchor="end">0.6</text>
<line x1="1282.30" y1="397.00" x2="1282.30" y2="407.70" stroke="#000" stroke-width="3.9" stroke-linecap="butt"/>
<line x1="1309.80" y1="397.00" x2="1309.80" y2="407.70" stroke="#000" stroke-width="3.9" stroke-linecap="butt"/>
<line x1="1337.00" y1="397.00" x2="1337.00" y2="407.70" stroke="#000" stroke-width="3.9" stroke-linecap="butt"/>
<line x1="1373.40" y1="397.00" x2="1373.40" y2="407.70" stroke="#000" stroke-width="3.9" stroke-linecap="butt"/>
<line x1="1409.80" y1="397.00" x2="1409.80" y2="407.70" stroke="#000" stroke-width="3.9" stroke-linecap="butt"/>
<line x1="1271.30" y1="356.40" x2="1422.00" y2="356.40" stroke="#000" stroke-width="3.3" stroke-linecap="round" stroke-dasharray="0 7.14"/>
<text class="t" transform="translate(1290.70,428.50) rotate(-45) scale(0.95,1.0)" font-size="24.2" text-anchor="end">Pre-Injury</text>
<text class="t" transform="translate(1345.40,428.50) rotate(-45) scale(0.95,1.0)" font-size="24.2" text-anchor="end">Mild</text>
<text class="t" transform="translate(1381.80,428.50) rotate(-45) scale(0.95,1.0)" font-size="24.2" text-anchor="end">Moderate</text>
<text class="t" transform="translate(1418.20,428.50) rotate(-45) scale(0.95,1.0)" font-size="24.2" text-anchor="end">Severe</text>
<circle cx="1282.30" cy="307.40" r="7.2" fill="#a1a1a6"/>
<circle cx="1281.10" cy="313.00" r="7.2" fill="#a1a1a6"/>
<circle cx="1283.50" cy="319.00" r="7.2" fill="#a1a1a6"/>
<circle cx="1281.10" cy="325.30" r="7.2" fill="#a1a1a6"/>
<circle cx="1283.50" cy="344.10" r="7.2" fill="#a1a1a6"/>
<circle cx="1281.10" cy="349.51" r="7.2" fill="#a1a1a6"/>
<circle cx="1283.50" cy="354.93" r="7.2" fill="#a1a1a6"/>
<circle cx="1281.10" cy="360.34" r="7.2" fill="#a1a1a6"/>
<circle cx="1283.50" cy="365.75" r="7.2" fill="#a1a1a6"/>
<circle cx="1281.10" cy="371.16" r="7.2" fill="#a1a1a6"/>
<circle cx="1283.50" cy="376.57" r="7.2" fill="#a1a1a6"/>
<circle cx="1281.10" cy="381.99" r="7.2" fill="#a1a1a6"/>
<circle cx="1282.30" cy="387.40" r="7.2" fill="#a1a1a6"/>
<rect x="1329.60" y="261.40" width="14.8" height="14.8" fill="#ff0000"/>
<rect x="1331.20" y="280.00" width="14.8" height="14.8" fill="#ff0000"/>
<rect x="1328.00" y="285.83" width="14.8" height="14.8" fill="#ff0000"/>
<rect x="1331.20" y="291.67" width="14.8" height="14.8" fill="#ff0000"/>
<rect x="1328.00" y="297.50" width="14.8" height="14.8" fill="#ff0000"/>
<rect x="1331.20" y="303.33" width="14.8" height="14.8" fill="#ff0000"/>
<rect x="1328.00" y="309.17" width="14.8" height="14.8" fill="#ff0000"/>
<rect x="1331.20" y="315.00" width="14.8" height="14.8" fill="#ff0000"/>
<rect x="1328.00" y="320.83" width="14.8" height="14.8" fill="#ff0000"/>
<rect x="1331.20" y="326.67" width="14.8" height="14.8" fill="#ff0000"/>
<rect x="1328.00" y="332.50" width="14.8" height="14.8" fill="#ff0000"/>
<rect x="1367.50" y="295.50" width="14.8" height="14.8" fill="#ff0000"/>
<rect x="1364.50" y="301.37" width="14.8" height="14.8" fill="#ff0000"/>
<rect x="1367.50" y="307.23" width="14.8" height="14.8" fill="#ff0000"/>
<rect x="1364.50" y="313.10" width="14.8" height="14.8" fill="#ff0000"/>
<rect x="1367.50" y="318.97" width="14.8" height="14.8" fill="#ff0000"/>
<rect x="1364.50" y="324.83" width="14.8" height="14.8" fill="#ff0000"/>
<rect x="1367.50" y="330.70" width="14.8" height="14.8" fill="#ff0000"/>
<rect x="1402.40" y="238.30" width="14.8" height="14.8" fill="#ff0000"/>
<rect x="1404.00" y="261.40" width="14.8" height="14.8" fill="#ff0000"/>
<rect x="1400.80" y="267.37" width="14.8" height="14.8" fill="#ff0000"/>
<rect x="1404.00" y="273.33" width="14.8" height="14.8" fill="#ff0000"/>
<rect x="1400.80" y="279.30" width="14.8" height="14.8" fill="#ff0000"/>
<rect x="1404.00" y="285.27" width="14.8" height="14.8" fill="#ff0000"/>
<rect x="1400.80" y="291.23" width="14.8" height="14.8" fill="#ff0000"/>
<rect x="1404.00" y="297.20" width="14.8" height="14.8" fill="#ff0000"/>
<line x1="1282.30" y1="331.40" x2="1282.30" y2="376.10" stroke="#000" stroke-width="3.3" stroke-linecap="butt"/>
<line x1="1273.40" y1="353.80" x2="1291.20" y2="353.80" stroke="#000" stroke-width="3.3" stroke-linecap="butt"/>
<line x1="1277.75" y1="331.40" x2="1286.85" y2="331.40" stroke="#000" stroke-width="3.3" stroke-linecap="butt"/>
<line x1="1277.75" y1="376.10" x2="1286.85" y2="376.10" stroke="#000" stroke-width="3.3" stroke-linecap="butt"/>
<line x1="1337.00" y1="289.30" x2="1337.00" y2="338.00" stroke="#000" stroke-width="3.3" stroke-linecap="butt"/>
<line x1="1328.10" y1="313.60" x2="1345.90" y2="313.60" stroke="#000" stroke-width="3.3" stroke-linecap="butt"/>
<line x1="1332.45" y1="289.30" x2="1341.55" y2="289.30" stroke="#000" stroke-width="3.3" stroke-linecap="butt"/>
<line x1="1332.45" y1="338.00" x2="1341.55" y2="338.00" stroke="#000" stroke-width="3.3" stroke-linecap="butt"/>
<line x1="1373.40" y1="301.10" x2="1373.40" y2="331.80" stroke="#000" stroke-width="3.3" stroke-linecap="butt"/>
<line x1="1364.50" y1="316.60" x2="1382.30" y2="316.60" stroke="#000" stroke-width="3.3" stroke-linecap="butt"/>
<line x1="1368.85" y1="301.10" x2="1377.95" y2="301.10" stroke="#000" stroke-width="3.3" stroke-linecap="butt"/>
<line x1="1368.85" y1="331.80" x2="1377.95" y2="331.80" stroke="#000" stroke-width="3.3" stroke-linecap="butt"/>
<line x1="1409.80" y1="261.80" x2="1409.80" y2="300.00" stroke="#000" stroke-width="3.3" stroke-linecap="butt"/>
<line x1="1400.90" y1="280.70" x2="1418.70" y2="280.70" stroke="#000" stroke-width="3.3" stroke-linecap="butt"/>
<line x1="1405.25" y1="261.80" x2="1414.35" y2="261.80" stroke="#000" stroke-width="3.3" stroke-linecap="butt"/>
<line x1="1405.25" y1="300.00" x2="1414.35" y2="300.00" stroke="#000" stroke-width="3.3" stroke-linecap="butt"/>
<text class="t" transform="translate(1115.00,539.20)" font-size="54" text-anchor="start">H</text>
<text class="t" transform="translate(1338.50,557.20) scale(0.988,1)" font-size="35" text-anchor="middle">Caudal Penumbra</text>
<text class="t" transform="translate(1338.50,600.00) scale(0.988,1)" font-size="35" text-anchor="middle">Prominence</text>
<text class="t" transform="translate(1168.20,756.20) rotate(-90) scale(0.819,1.0)" font-size="26.4" text-anchor="middle">Area-Adjusted</text>
<text class="t" transform="translate(1198.60,756.00) rotate(-90) scale(0.819,1.0)" font-size="26.4" text-anchor="middle">Velocity Index (AU)</text>
<line x1="1264.40" y1="674.25" x2="1264.40" y2="841.35" stroke="#000" stroke-width="3.9" stroke-linecap="butt"/>
<line x1="1254.30" y1="839.40" x2="1429.70" y2="839.40" stroke="#000" stroke-width="3.9" stroke-linecap="butt"/>
<line x1="1254.30" y1="839.40" x2="1264.40" y2="839.40" stroke="#000" stroke-width="3.9" stroke-linecap="butt"/>
<text class="t" transform="translate(1251.00,848.40) scale(0.925,1)" font-size="24.2" text-anchor="end">-0.2</text>
<line x1="1254.30" y1="798.60" x2="1264.40" y2="798.60" stroke="#000" stroke-width="3.9" stroke-linecap="butt"/>
<text class="t" transform="translate(1251.00,807.60) scale(0.925,1)" font-size="24.2" text-anchor="end">0.0</text>
<line x1="1254.30" y1="757.80" x2="1264.40" y2="757.80" stroke="#000" stroke-width="3.9" stroke-linecap="butt"/>
<text class="t" transform="translate(1251.00,766.80) scale(0.925,1)" font-size="24.2" text-anchor="end">0.2</text>
<line x1="1254.30" y1="717.00" x2="1264.40" y2="717.00" stroke="#000" stroke-width="3.9" stroke-linecap="butt"/>
<text class="t" transform="translate(1251.00,726.00) scale(0.925,1)" font-size="24.2" text-anchor="end">0.4</text>
<line x1="1254.30" y1="676.20" x2="1264.40" y2="676.20" stroke="#000" stroke-width="3.9" stroke-linecap="butt"/>
<text class="t" transform="translate(1251.00,685.20) scale(0.925,1)" font-size="24.2" text-anchor="end">0.6</text>
<line x1="1282.30" y1="839.40" x2="1282.30" y2="850.10" stroke="#000" stroke-width="3.9" stroke-linecap="butt"/>
<line x1="1309.80" y1="839.40" x2="1309.80" y2="850.10" stroke="#000" stroke-width="3.9" stroke-linecap="butt"/>
<line x1="1337.00" y1="839.40" x2="1337.00" y2="850.10" stroke="#000" stroke-width="3.9" stroke-linecap="butt"/>
<line x1="1373.40" y1="839.40" x2="1373.40" y2="850.10" stroke="#000" stroke-width="3.9" stroke-linecap="butt"/>
<line x1="1409.80" y1="839.40" x2="1409.80" y2="850.10" stroke="#000" stroke-width="3.9" stroke-linecap="butt"/>
<line x1="1271.30" y1="798.80" x2="1422.00" y2="798.80" stroke="#000" stroke-width="3.3" stroke-linecap="round" stroke-dasharray="0 7.14"/>
<text class="t" transform="translate(1290.70,870.90) rotate(-45) scale(0.95,1.0)" font-size="24.2" text-anchor="end">Pre-Injury</text>
<text class="t" transform="translate(1345.40,870.90) rotate(-45) scale(0.95,1.0)" font-size="24.2" text-anchor="end">Mild</text>
<text class="t" transform="translate(1381.80,870.90) rotate(-45) scale(0.95,1.0)" font-size="24.2" text-anchor="end">Moderate</text>
<text class="t" transform="translate(1418.20,870.90) rotate(-45) scale(0.95,1.0)" font-size="24.2" text-anchor="end">Severe</text>
<text class="t" transform="translate(1345.50,980.40)" font-size="24.7" text-anchor="middle">Injury Severity</text>
<circle cx="1282.30" cy="750.00" r="7.2" fill="#a1a1a6"/>
<circle cx="1281.10" cy="758.50" r="7.2" fill="#a1a1a6"/>
<circle cx="1283.50" cy="763.79" r="7.2" fill="#a1a1a6"/>
<circle cx="1281.10" cy="769.08" r="7.2" fill="#a1a1a6"/>
<circle cx="1283.50" cy="774.38" r="7.2" fill="#a1a1a6"/>
<circle cx="1281.10" cy="779.67" r="7.2" fill="#a1a1a6"/>
<circle cx="1283.50" cy="784.96" r="7.2" fill="#a1a1a6"/>
<circle cx="1281.10" cy="790.25" r="7.2" fill="#a1a1a6"/>
<circle cx="1283.50" cy="795.54" r="7.2" fill="#a1a1a6"/>
<circle cx="1281.10" cy="800.83" r="7.2" fill="#a1a1a6"/>
<circle cx="1283.50" cy="806.12" r="7.2" fill="#a1a1a6"/>
<circle cx="1281.10" cy="811.42" r="7.2" fill="#a1a1a6"/>
<circle cx="1283.50" cy="816.71" r="7.2" fill="#a1a1a6"/>
<circle cx="1281.10" cy="822.00" r="7.2" fill="#a1a1a6"/>
<circle cx="1283.50" cy="829.50" r="7.2" fill="#a1a1a6"/>
<circle cx="1282.30" cy="834.30" r="7.2" fill="#a1a1a6"/>
<rect x="1329.60" y="716.10" width="14.8" height="14.8" fill="#ff0000"/>
<rect x="1331.20" y="735.50" width="14.8" height="14.8" fill="#ff0000"/>
<rect x="1328.00" y="740.60" width="14.8" height="14.8" fill="#ff0000"/>
<rect x="1331.20" y="745.70" width="14.8" height="14.8" fill="#ff0000"/>
<rect x="1329.60" y="784.30" width="14.8" height="14.8" fill="#ff0000"/>
<rect x="1366.00" y="689.40" width="14.8" height="14.8" fill="#ff0000"/>
<rect x="1367.50" y="721.80" width="14.8" height="14.8" fill="#ff0000"/>
<rect x="1364.50" y="727.26" width="14.8" height="14.8" fill="#ff0000"/>
<rect x="1367.50" y="732.72" width="14.8" height="14.8" fill="#ff0000"/>
<rect x="1364.50" y="738.18" width="14.8" height="14.8" fill="#ff0000"/>
<rect x="1367.50" y="743.64" width="14.8" height="14.8" fill="#ff0000"/>
<rect x="1364.50" y="749.10" width="14.8" height="14.8" fill="#ff0000"/>
<rect x="1366.00" y="772.90" width="14.8" height="14.8" fill="#ff0000"/>
<rect x="1402.40" y="684.30" width="14.8" height="14.8" fill="#ff0000"/>
<rect x="1404.00" y="708.20" width="14.8" height="14.8" fill="#ff0000"/>
<rect x="1400.80" y="714.25" width="14.8" height="14.8" fill="#ff0000"/>
<rect x="1404.00" y="720.30" width="14.8" height="14.8" fill="#ff0000"/>
<rect x="1400.80" y="726.35" width="14.8" height="14.8" fill="#ff0000"/>
<rect x="1404.00" y="732.40" width="14.8" height="14.8" fill="#ff0000"/>
<rect x="1400.80" y="738.45" width="14.8" height="14.8" fill="#ff0000"/>
<rect x="1404.00" y="744.50" width="14.8" height="14.8" fill="#ff0000"/>
<rect x="1402.40" y="779.80" width="14.8" height="14.8" fill="#ff0000"/>
<line x1="1282.30" y1="772.00" x2="1282.30" y2="815.20" stroke="#000" stroke-width="3.3" stroke-linecap="butt"/>
<line x1="1273.40" y1="793.70" x2="1291.20" y2="793.70" stroke="#000" stroke-width="3.3" stroke-linecap="butt"/>
<line x1="1277.75" y1="772.00" x2="1286.85" y2="772.00" stroke="#000" stroke-width="3.3" stroke-linecap="butt"/>
<line x1="1277.75" y1="815.20" x2="1286.85" y2="815.20" stroke="#000" stroke-width="3.3" stroke-linecap="butt"/>
<line x1="1337.00" y1="730.90" x2="1337.00" y2="765.70" stroke="#000" stroke-width="3.3" stroke-linecap="butt"/>
<line x1="1328.10" y1="748.40" x2="1345.90" y2="748.40" stroke="#000" stroke-width="3.3" stroke-linecap="butt"/>
<line x1="1332.45" y1="730.90" x2="1341.55" y2="730.90" stroke="#000" stroke-width="3.3" stroke-linecap="butt"/>
<line x1="1332.45" y1="765.70" x2="1341.55" y2="765.70" stroke="#000" stroke-width="3.3" stroke-linecap="butt"/>
<line x1="1373.40" y1="710.50" x2="1373.40" y2="773.40" stroke="#000" stroke-width="3.3" stroke-linecap="butt"/>
<line x1="1364.50" y1="741.60" x2="1382.30" y2="741.60" stroke="#000" stroke-width="3.3" stroke-linecap="butt"/>
<line x1="1368.85" y1="710.50" x2="1377.95" y2="710.50" stroke="#000" stroke-width="3.3" stroke-linecap="butt"/>
<line x1="1368.85" y1="773.40" x2="1377.95" y2="773.40" stroke="#000" stroke-width="3.3" stroke-linecap="butt"/>
<line x1="1409.80" y1="705.90" x2="1409.80" y2="759.30" stroke="#000" stroke-width="3.3" stroke-linecap="butt"/>
<line x1="1400.90" y1="732.50" x2="1418.70" y2="732.50" stroke="#000" stroke-width="3.3" stroke-linecap="butt"/>
<line x1="1405.25" y1="705.90" x2="1414.35" y2="705.90" stroke="#000" stroke-width="3.3" stroke-linecap="butt"/>
<line x1="1405.25" y1="759.30" x2="1414.35" y2="759.30" stroke="#000" stroke-width="3.3" stroke-linecap="butt"/>
<path d="M1280.3 283.6 V114.5 H1374.2 V132.2" fill="none" stroke="#000" stroke-width="3.8" stroke-linejoin="miter"/>
<line x1="1330.20" y1="132.20" x2="1420.60" y2="132.20" stroke="#000" stroke-width="3.8" stroke-linecap="butt"/>
<text class="s" x="1299.06" y="109.50" font-size="23.5" letter-spacing="2.06">****</text>
<path d="M1337.2 254.5 V167 H1409.7 V180.8" fill="none" stroke="#000" stroke-width="3.8" stroke-linejoin="miter"/>
<text class="s" x="1359.91" y="161.50" font-size="23.5" letter-spacing="2.06">**</text>
<path d="M1373.8 287 V217.3 H1410 V230.8" fill="none" stroke="#000" stroke-width="3.8" stroke-linejoin="miter"/>
<text class="s" x="1384.78" y="212.60" font-size="23.5" letter-spacing="2.06">*</text>
<path d="M1280.3 726.4 V647.3 H1376.8 V665" fill="none" stroke="#000" stroke-width="3.8" stroke-linejoin="miter"/>
<line x1="1333.00" y1="665.00" x2="1423.00" y2="665.00" stroke="#000" stroke-width="3.8" stroke-linecap="butt"/>
<text class="s" x="1300.66" y="642.90" font-size="23.5" letter-spacing="2.06">****</text>
<text class="t" transform="translate(-0.10,539.40)" font-size="54" text-anchor="start">E</text>
<text class="t" transform="translate(196.80,590.20) scale(0.988,1)" font-size="35" text-anchor="middle">Injury Extent</text>
<text class="t" transform="translate(59.10,736.30) rotate(-90) scale(0.782,1.0)" font-size="32.3" text-anchor="middle">Injury Extent (mm)</text>
<line x1="119.00" y1="641.20" x2="119.00" y2="837.40" stroke="#000" stroke-width="4.4" stroke-linecap="butt"/>
<line x1="105.90" y1="835.20" x2="312.80" y2="835.20" stroke="#000" stroke-width="4.4" stroke-linecap="butt"/>
<line x1="105.90" y1="835.20" x2="119.00" y2="835.20" stroke="#000" stroke-width="4.4" stroke-linecap="butt"/>
<text class="t" transform="translate(103.10,845.20) scale(0.925,1)" font-size="27.6" text-anchor="end">0</text>
<line x1="105.90" y1="796.84" x2="119.00" y2="796.84" stroke="#000" stroke-width="4.4" stroke-linecap="butt"/>
<text class="t" transform="translate(103.10,806.84) scale(0.925,1)" font-size="27.6" text-anchor="end">2</text>
<line x1="105.90" y1="758.48" x2="119.00" y2="758.48" stroke="#000" stroke-width="4.4" stroke-linecap="butt"/>
<text class="t" transform="translate(103.10,768.48) scale(0.925,1)" font-size="27.6" text-anchor="end">4</text>
<line x1="105.90" y1="720.12" x2="119.00" y2="720.12" stroke="#000" stroke-width="4.4" stroke-linecap="butt"/>
<text class="t" transform="translate(103.10,730.12) scale(0.925,1)" font-size="27.6" text-anchor="end">6</text>
<line x1="105.90" y1="681.76" x2="119.00" y2="681.76" stroke="#000" stroke-width="4.4" stroke-linecap="butt"/>
<text class="t" transform="translate(103.10,691.76) scale(0.925,1)" font-size="27.6" text-anchor="end">8</text>
<line x1="105.90" y1="643.40" x2="119.00" y2="643.40" stroke="#000" stroke-width="4.4" stroke-linecap="butt"/>
<text class="t" transform="translate(103.10,653.40) scale(0.925,1)" font-size="27.6" text-anchor="end">10</text>
<line x1="157.20" y1="835.20" x2="157.20" y2="848.30" stroke="#000" stroke-width="4.4" stroke-linecap="butt"/>
<line x1="214.80" y1="835.20" x2="214.80" y2="848.30" stroke="#000" stroke-width="4.4" stroke-linecap="butt"/>
<line x1="272.40" y1="835.20" x2="272.40" y2="848.30" stroke="#000" stroke-width="4.4" stroke-linecap="butt"/>
<text class="t" transform="translate(171.30,864.10) rotate(-45) scale(0.93,1.0)" font-size="25.3" text-anchor="end">Mild</text>
<text class="t" transform="translate(228.90,864.10) rotate(-45) scale(0.93,1.0)" font-size="25.3" text-anchor="end">Moderate</text>
<text class="t" transform="translate(279.20,864.10) rotate(-45) scale(0.93,1.0)" font-size="25.3" text-anchor="end">Severe</text>
<text class="t" transform="translate(201.00,983.50)" font-size="25.4" text-anchor="middle">Injury Severity</text>
<rect x="147.10" y="769.30" width="17" height="17" fill="#ff0000"/>
<rect x="150.90" y="777.20" width="17" height="17" fill="#ff0000"/>
<rect x="141.00" y="798.20" width="17" height="17" fill="#ff0000"/>
<rect x="148.30" y="794.20" width="17" height="17" fill="#ff0000"/>
<rect x="137.40" y="808.00" width="17" height="17" fill="#ff0000"/>
<rect x="160.00" y="811.30" width="17" height="17" fill="#ff0000"/>
<rect x="152.20" y="813.90" width="17" height="17" fill="#ff0000"/>
<rect x="150.20" y="804.10" width="17" height="17" fill="#ff0000"/>
<rect x="195.50" y="784.40" width="17" height="17" fill="#ff0000"/>
<rect x="202.80" y="782.40" width="17" height="17" fill="#ff0000"/>
<rect x="216.90" y="782.40" width="17" height="17" fill="#ff0000"/>
<rect x="210.00" y="794.20" width="17" height="17" fill="#ff0000"/>
<rect x="202.80" y="807.70" width="17" height="17" fill="#ff0000"/>
<rect x="264.00" y="669.30" width="17" height="17" fill="#ff0000"/>
<rect x="253.00" y="740.50" width="17" height="17" fill="#ff0000"/>
<rect x="260.30" y="744.30" width="17" height="17" fill="#ff0000"/>
<rect x="267.80" y="756.10" width="17" height="17" fill="#ff0000"/>
<rect x="260.30" y="765.30" width="17" height="17" fill="#ff0000"/>
<rect x="275.00" y="792.30" width="17" height="17" fill="#ff0000"/>
<rect x="260.30" y="792.30" width="17" height="17" fill="#ff0000"/>
<rect x="267.80" y="801.40" width="17" height="17" fill="#ff0000"/>
<rect x="253.00" y="807.70" width="17" height="17" fill="#ff0000"/>
<line x1="157.20" y1="792.00" x2="157.20" y2="822.00" stroke="#000" stroke-width="3.8" stroke-linecap="butt"/>
<line x1="138.00" y1="807.10" x2="176.40" y2="807.10" stroke="#000" stroke-width="3.8" stroke-linecap="butt"/>
<line x1="147.55" y1="792.00" x2="166.85" y2="792.00" stroke="#000" stroke-width="3.8" stroke-linecap="butt"/>
<line x1="147.55" y1="822.00" x2="166.85" y2="822.00" stroke="#000" stroke-width="3.8" stroke-linecap="butt"/>
<line x1="214.80" y1="788.00" x2="214.80" y2="809.80" stroke="#000" stroke-width="3.8" stroke-linecap="butt"/>
<line x1="195.60" y1="798.70" x2="234.00" y2="798.70" stroke="#000" stroke-width="3.8" stroke-linecap="butt"/>
<line x1="205.15" y1="788.00" x2="224.45" y2="788.00" stroke="#000" stroke-width="3.8" stroke-linecap="butt"/>
<line x1="205.15" y1="809.80" x2="224.45" y2="809.80" stroke="#000" stroke-width="3.8" stroke-linecap="butt"/>
<line x1="272.40" y1="728.80" x2="272.40" y2="814.80" stroke="#000" stroke-width="3.8" stroke-linecap="butt"/>
<line x1="253.20" y1="771.70" x2="291.60" y2="771.70" stroke="#000" stroke-width="3.8" stroke-linecap="butt"/>
<line x1="262.75" y1="728.80" x2="282.05" y2="728.80" stroke="#000" stroke-width="3.8" stroke-linecap="butt"/>
<line x1="262.75" y1="814.80" x2="282.05" y2="814.80" stroke="#000" stroke-width="3.8" stroke-linecap="butt"/>
<path d="M156.9 761.4 V645.1 H272.6 V661.6" fill="none" stroke="#000" stroke-width="4.4" stroke-linejoin="miter"/>
<text class="s" x="207.22" y="636.93" font-size="25.5" letter-spacing="2.06">*</text>
<g fill="#000">
<rect x="347.8" y="8.05" width="4.2" height="4.1"/>
<rect x="347.8" y="20.02" width="4.2" height="4.1"/>
<rect x="347.8" y="31.98" width="4.2" height="4.1"/>
<rect x="347.8" y="43.95" width="4.2" height="4.1"/>
<rect x="347.8" y="55.92" width="4.2" height="4.1"/>
<rect x="347.8" y="67.89" width="4.2" height="4.1"/>
<rect x="347.8" y="79.85" width="4.2" height="4.1"/>
<rect x="347.8" y="91.82" width="4.2" height="4.1"/>
<rect x="347.8" y="103.79" width="4.2" height="4.1"/>
<rect x="347.8" y="115.75" width="4.2" height="4.1"/>
<rect x="347.8" y="127.72" width="4.2" height="4.1"/>
<rect x="347.8" y="139.69" width="4.2" height="4.1"/>
<rect x="347.8" y="151.65" width="4.2" height="4.1"/>
<rect x="347.8" y="163.62" width="4.2" height="4.1"/>
<rect x="347.8" y="175.59" width="4.2" height="4.1"/>
<rect x="347.8" y="187.55" width="4.2" height="4.1"/>
<rect x="347.8" y="199.52" width="4.2" height="4.1"/>
<rect x="347.8" y="211.49" width="4.2" height="4.1"/>
<rect x="347.8" y="223.46" width="4.2" height="4.1"/>
<rect x="347.8" y="235.42" width="4.2" height="4.1"/>
<rect x="347.8" y="247.39" width="4.2" height="4.1"/>
<rect x="347.8" y="259.36" width="4.2" height="4.1"/>
<rect x="347.8" y="271.32" width="4.2" height="4.1"/>
<rect x="347.8" y="283.29" width="4.2" height="4.1"/>
<rect x="347.8" y="295.26" width="4.2" height="4.1"/>
<rect x="347.8" y="307.23" width="4.2" height="4.1"/>
<rect x="347.8" y="319.19" width="4.2" height="4.1"/>
<rect x="347.8" y="331.16" width="4.2" height="4.1"/>
<rect x="347.8" y="343.13" width="4.2" height="4.1"/>
<rect x="347.8" y="355.09" width="4.2" height="4.1"/>
<rect x="347.8" y="367.06" width="4.2" height="4.1"/>
<rect x="347.8" y="379.03" width="4.2" height="4.1"/>
<rect x="347.8" y="390.99" width="4.2" height="4.1"/>
<rect x="347.8" y="402.96" width="4.2" height="4.1"/>
<rect x="347.8" y="414.93" width="4.2" height="4.1"/>
<rect x="347.8" y="426.90" width="4.2" height="4.1"/>
<rect x="347.8" y="438.86" width="4.2" height="4.1"/>
<rect x="347.8" y="450.83" width="4.2" height="4.1"/>
<rect x="347.8" y="462.80" width="4.2" height="4.1"/>
<rect x="347.8" y="474.76" width="4.2" height="4.1"/>
<rect x="347.8" y="486.73" width="4.2" height="4.1"/>
<rect x="347.8" y="498.70" width="4.2" height="4.1"/>
<rect x="347.8" y="510.66" width="4.2" height="4.1"/>
<rect x="347.8" y="522.63" width="4.2" height="4.1"/>
<rect x="347.8" y="534.60" width="4.2" height="4.1"/>
<rect x="347.8" y="546.57" width="4.2" height="4.1"/>
<rect x="347.8" y="558.53" width="4.2" height="4.1"/>
<rect x="347.8" y="570.50" width="4.2" height="4.1"/>
<rect x="347.8" y="582.47" width="4.2" height="4.1"/>
<rect x="347.8" y="594.43" width="4.2" height="4.1"/>
<rect x="347.8" y="606.40" width="4.2" height="4.1"/>
<rect x="347.8" y="618.37" width="4.2" height="4.1"/>
<rect x="347.8" y="630.33" width="4.2" height="4.1"/>
<rect x="347.8" y="642.30" width="4.2" height="4.1"/>
<rect x="347.8" y="654.27" width="4.2" height="4.1"/>
<rect x="347.8" y="666.24" width="4.2" height="4.1"/>
<rect x="347.8" y="678.20" width="4.2" height="4.1"/>
<rect x="347.8" y="690.17" width="4.2" height="4.1"/>
<rect x="347.8" y="702.14" width="4.2" height="4.1"/>
<rect x="347.8" y="714.10" width="4.2" height="4.1"/>
<rect x="347.8" y="726.07" width="4.2" height="4.1"/>
<rect x="347.8" y="738.04" width="4.2" height="4.1"/>
<rect x="347.8" y="750.00" width="4.2" height="4.1"/>
<rect x="347.8" y="761.97" width="4.2" height="4.1"/>
<rect x="347.8" y="773.94" width="4.2" height="4.1"/>
<rect x="347.8" y="785.91" width="4.2" height="4.1"/>
<rect x="347.8" y="797.87" width="4.2" height="4.1"/>
<rect x="347.8" y="809.84" width="4.2" height="4.1"/>
<rect x="347.8" y="821.81" width="4.2" height="4.1"/>
<rect x="347.8" y="833.77" width="4.2" height="4.1"/>
<rect x="347.8" y="845.74" width="4.2" height="4.1"/>
<rect x="347.8" y="857.71" width="4.2" height="4.1"/>
<rect x="347.8" y="869.67" width="4.2" height="4.1"/>
<rect x="347.8" y="881.64" width="4.2" height="4.1"/>
<rect x="347.8" y="893.61" width="4.2" height="4.1"/>
<rect x="347.8" y="905.58" width="4.2" height="4.1"/>
<rect x="347.8" y="917.54" width="4.2" height="4.1"/>
<rect x="347.8" y="929.51" width="4.2" height="4.1"/>
<rect x="347.8" y="941.48" width="4.2" height="4.1"/>
<rect x="347.8" y="953.44" width="4.2" height="4.1"/>
</g>
<text class="t" transform="translate(408.20,236.80) rotate(-90) scale(0.965,1.0)" font-size="51.5" text-anchor="middle">Rostral</text>
<text class="t" transform="translate(408.20,731.20) rotate(-90) scale(0.965,1.0)" font-size="51.5" text-anchor="middle">Caudal</text>
</svg>
</body></html>
